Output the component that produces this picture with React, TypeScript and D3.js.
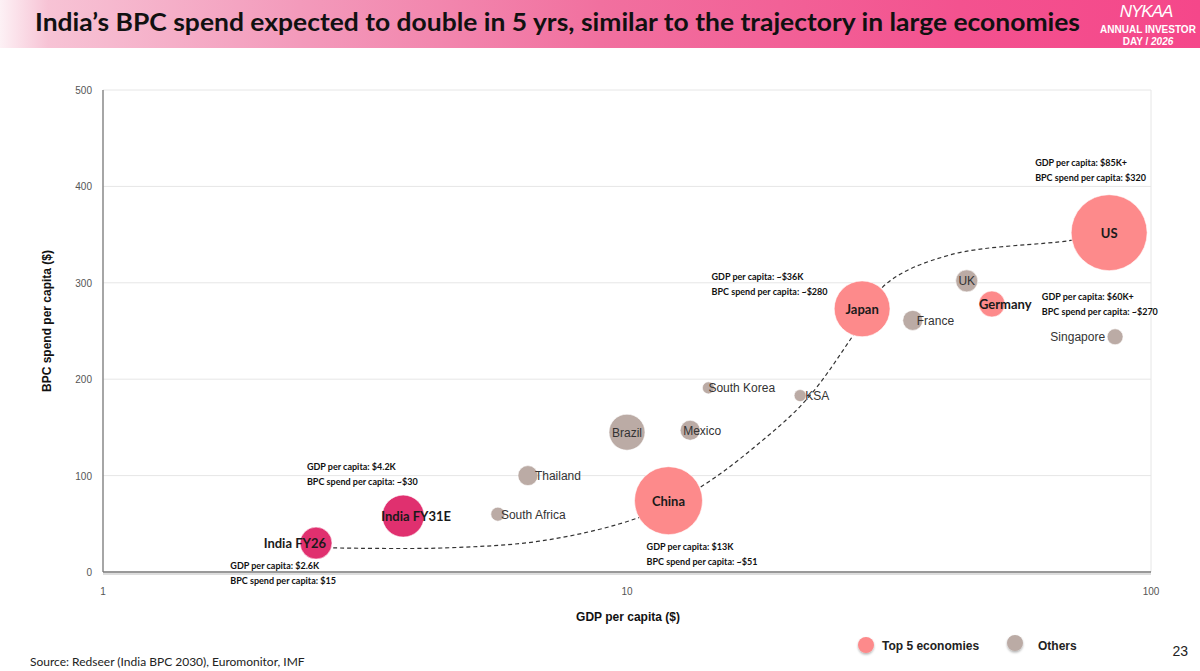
import React from 'react';
import * as d3 from 'd3';

// GDP per capita ($K), BPC spend per capita ($), bubble size index, group
const names = ['India FY26', 'India FY31E', 'South Africa', 'Thailand', 'Brazil', 'Mexico', 'South Korea', 'KSA', 'China', 'Japan', 'France', 'UK', 'Germany', 'Singapore', 'US'];
const gdp = [2.55, 3.74, 5.67, 6.47, 10.0, 13.2, 14.3, 21.4, 12.0, 28.1, 35.1, 44.5, 49.7, 85.4, 83.2];
const bpc = [30, 58, 60, 100, 145, 147, 191, 183, 74, 273, 261, 302, 278, 244, 352];
const sizes = [17.7, 30.5, 3.4, 6.9, 22.4, 6.9, 2.5, 2.5, 80, 54, 6.9, 8.4, 11.7, 4.4, 100];
const groups = ['india', 'india', 'other', 'other', 'other', 'other', 'other', 'other', 'top', 'top', 'other', 'other', 'top', 'other', 'top'];

// trajectory line (GDP $K, BPC $)
const trajGdp = [2.75, 4.5, 7.0, 10.6, 13.8, 18.0, 22.1, 26.9, 31.1, 41.4, 70.3, 83.2];
const trajBpc = [25, 25, 33, 57, 88, 135, 180, 244, 298, 329, 344, 352];

const yTicks = [0, 100, 200, 300, 400, 500];
const xTicks = [1, 10, 100];

// callout texts, anchored in data space (GDP $K, BPC $)
const callouts = [
  {x: 60.1, y: 421, lines: ['GDP per capita: $85K+', 'BPC spend per capita: $320']},
  {x: 14.5, y: 303, lines: ['GDP per capita: ~$36K', 'BPC spend per capita: ~$280']},
  {x: 61.9, y: 282, lines: ['GDP per capita: $60K+', 'BPC spend per capita: ~$270']},
  {x: 2.45, y: 106, lines: ['GDP per capita: $4.2K', 'BPC spend per capita: ~$30']},
  {x: 1.75, y: 3, lines: ['GDP per capita: $2.6K', 'BPC spend per capita: $15']},
  {x: 10.9, y: 23, lines: ['GDP per capita: $13K', 'BPC spend per capita: ~$51']},
];

const colors: Record<string, string> = {india: '#e0306f', top: '#fd8a8b', other: '#bbaba5'};

const labelStyle: Record<string, {dx: number; anchor: string}> = {
  'India FY26': {dx: 10, anchor: 'end'},
  'India FY31E': {dx: 13, anchor: 'middle'},
  'South Africa': {dx: 3, anchor: 'start'},
  Thailand: {dx: 7, anchor: 'start'},
  Brazil: {dx: 0, anchor: 'middle'},
  Mexico: {dx: -7, anchor: 'start'},
  'South Korea': {dx: 0, anchor: 'start'},
  KSA: {dx: 5, anchor: 'start'},
  China: {dx: 0, anchor: 'middle'},
  Japan: {dx: 0, anchor: 'middle'},
  France: {dx: 4, anchor: 'start'},
  UK: {dx: 0, anchor: 'middle'},
  Germany: {dx: -13, anchor: 'start'},
  Singapore: {dx: -10, anchor: 'end'},
  US: {dx: 0, anchor: 'middle'},
};

const calibri = 'Lato, "Open Sans", sans-serif';
const arial = '"Liberation Sans", Arial, sans-serif';

export default function App() {
  const x = d3.scaleLog().domain([1, 100]).range([103, 1151]);
  const y = d3.scaleLinear().domain([0, 500]).range([572, 90]);
  const r = d3.scaleSqrt().domain([0, 100]).range([0, 38]);

  const line = d3
    .line<number>()
    .x(i => x(trajGdp[i]))
    .y(i => y(trajBpc[i]))
    .curve(d3.curveCatmullRom.alpha(0.5));

  const order = d3.range(names.length);

  return (
    <svg width={1200} height={671} style={{position: 'absolute', left: 0, top: 0, background: '#fff'}}>
      <defs>
        <linearGradient id="bar" x1="0" x2="1" y1="0" y2="0">
          <stop offset="0" stopColor="#fdf1f5" />
          <stop offset="0.04" stopColor="#f7c3d5" />
          <stop offset="0.25" stopColor="#f39abb" />
          <stop offset="0.5" stopColor="#f1709f" />
          <stop offset="0.8" stopColor="#f3528f" />
          <stop offset="1" stopColor="#f5478a" />
        </linearGradient>
        <filter id="sh" x="-50%" y="-50%" width="200%" height="200%">
          <feDropShadow dx="0" dy="1.5" stdDeviation="1" floodColor="#000" floodOpacity="0.3" />
        </filter>
      </defs>

      {/* title bar */}
      <rect x={0} y={0} width={1200} height={48} fill="url(#bar)" />
      <text x={35} y={31} fontFamily={calibri} fontWeight={700} fontSize={24} fill="#111" textLength={1045} lengthAdjust="spacingAndGlyphs">
        India’s BPC spend expected to double in 5 yrs, similar to the trajectory in large economies
      </text>
      <text x={1146} y={17} textAnchor="middle" fontFamily={arial} fontStyle="italic" fontSize={17} fill="#fff" letterSpacing={-1}>
        NYKAA
      </text>
      <text x={1148} y={33} textAnchor="middle" fontFamily={arial} fontWeight={700} fontSize={10} fill="#fff">
        ANNUAL INVESTOR
      </text>
      <text x={1148} y={45} textAnchor="middle" fontFamily={arial} fontWeight={700} fontSize={10} fill="#fff">
        DAY / <tspan fontStyle="italic">2026</tspan>
      </text>

      {/* grid */}
      {yTicks.slice(1).map(t => (
        <line key={t} x1={x(1)} x2={x(100)} y1={y(t)} y2={y(t)} stroke="#e6e6e6" strokeWidth={1} />
      ))}
      <line x1={x(100)} x2={x(100)} y1={y(500)} y2={y(0)} stroke="#e6e6e6" />
      <line x1={x(1)} x2={x(1)} y1={y(500)} y2={y(0)} stroke="#888" strokeWidth={1.5} />
      <line x1={x(1)} x2={x(100)} y1={y(0) + 2} y2={y(0) + 2} stroke="#ddd" strokeWidth={2} />
      <line x1={x(1)} x2={x(100)} y1={y(0)} y2={y(0)} stroke="#777" strokeWidth={1.5} />

      {yTicks.map(t => (
        <text key={t} x={92} y={y(t) + 4} textAnchor="end" fontFamily={arial} fontSize={10} fill="#555">
          {t}
        </text>
      ))}
      {xTicks.map(t => (
        <text key={t} x={x(t)} y={595} textAnchor="middle" fontFamily={arial} fontSize={10} fill="#555">
          {t}
        </text>
      ))}
      <text transform="translate(51,321) rotate(-90)" textAnchor="middle" fontFamily={arial} fontWeight={700} fontSize={12} fill="#111">
        BPC spend per capita ($)
      </text>
      <text x={628} y={621} textAnchor="middle" fontFamily={arial} fontWeight={700} fontSize={12} fill="#111">
        GDP per capita ($)
      </text>

      {/* trajectory */}
      <path d={line(d3.range(trajGdp.length)) || ''} fill="none" stroke="#333" strokeWidth={1.2} strokeDasharray="4,3" />

      {/* bubbles */}
      {order.map(i => (
        <circle key={names[i]} cx={x(gdp[i])} cy={y(bpc[i])} r={r(sizes[i])} fill={colors[groups[i]]} stroke="#fff" strokeWidth={0.6} />
      ))}
      {order.map(i => {
        const s = labelStyle[names[i]];
        const isOther = groups[i] === 'other';
        return (
          <text
            key={names[i]}
            x={x(gdp[i]) + s.dx}
            y={y(bpc[i]) + (isOther ? 4.5 : 5)}
            textAnchor={s.anchor}
            fontFamily={isOther ? arial : calibri}
            fontWeight={isOther ? 400 : 700}
            fontSize={isOther ? 12 : 13}
            fill={isOther ? '#333' : '#1a1a1a'}
          >
            {names[i]}
          </text>
        );
      })}

      {/* callouts */}
      {callouts.map((c, k) =>
        c.lines.map((l, j) => (
          <text key={`${k}-${j}`} x={x(c.x)} y={y(c.y) + j * 15} fontFamily={calibri} fontWeight={700} fontSize={9} fill="#111">
            {l}
          </text>
        )),
      )}

      {/* legend */}
      <circle cx={866} cy={645} r={8} fill={colors.top} filter="url(#sh)" />
      <text x={882} y={650} fontFamily={arial} fontWeight={700} fontSize={12} fill="#222">
        Top 5 economies
      </text>
      <circle cx={1015} cy={643} r={8} fill={colors.other} filter="url(#sh)" />
      <text x={1038} y={650} fontFamily={arial} fontWeight={700} fontSize={12} fill="#222">
        Others
      </text>

      <text x={1188} y={656} textAnchor="end" fontFamily={arial} fontSize={14} fill="#222">
        23
      </text>
      <text x={30} y={666} fontFamily={calibri} fontSize={12} fill="#222">
        Source: Redseer (India BPC 2030), Euromonitor, IMF
      </text>
    </svg>
  );
}
